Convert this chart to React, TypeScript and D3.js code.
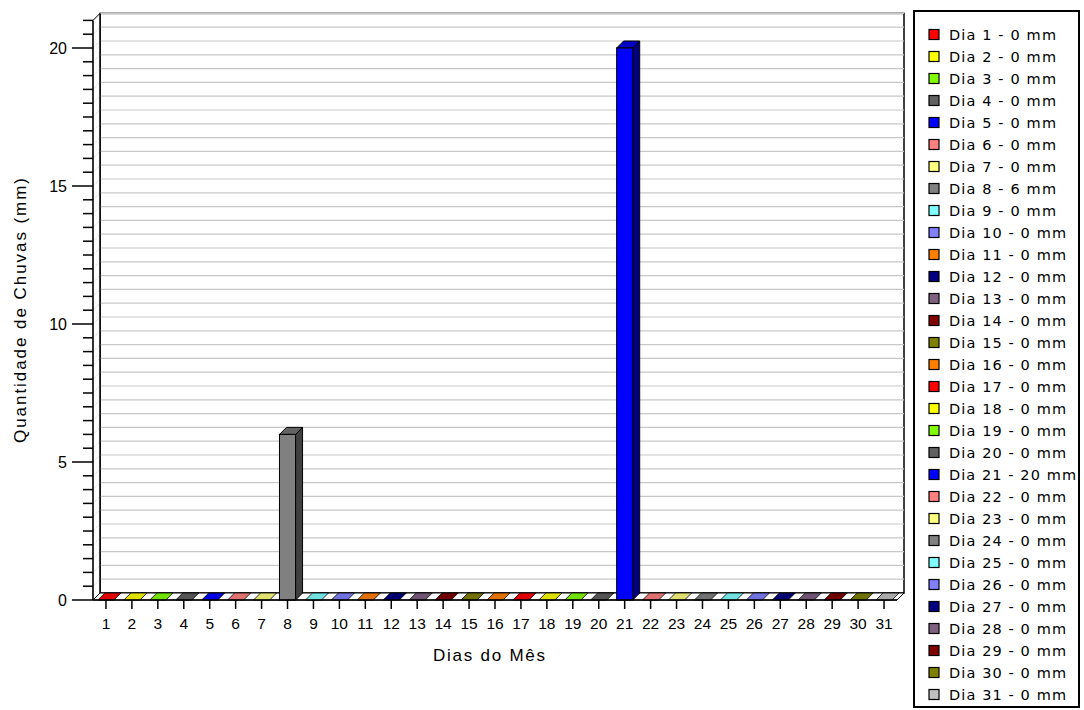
import React from "react";
import * as d3 from "d3";

const days: string[] = Array.from({ length: 31 }, (_, i) => String(i + 1));
const rainfall: number[] = [0, 0, 0, 0, 0, 0, 0, 6, 0, 0, 0, 0, 0, 0, 0, 0, 0, 0, 0, 0, 20, 0, 0, 0, 0, 0, 0, 0, 0, 0, 0];
const barColors: string[] = [
  "#FF0000", "#FFFF00", "#80FF00", "#606060", "#0000FF", "#FF8080", "#FFFF80", "#808080",
  "#80FFFF", "#8080FF", "#FF8000", "#000080", "#806080", "#800000", "#808000", "#FF8000",
  "#FF0000", "#FFFF00", "#80FF00", "#606060", "#0000FF", "#FF8080", "#FFFF80", "#808080",
  "#80FFFF", "#8080FF", "#000080", "#806080", "#800000", "#808000", "#C0C0C0",
];
const yMajorTicks: number[] = [0, 5, 10, 15, 20];
const yTitle = "Quantidade de Chuvas (mm)";
const xTitle = "Dias do Mês";

const FONT = "'Liberation Sans', Arial, sans-serif";
const LFONT = "'DejaVu Sans', sans-serif";

function shade(c: string, k: number): string {
  const rgb = d3.rgb(c);
  return d3.rgb(rgb.r * k, rgb.g * k, rgb.b * k).formatHex();
}

export default function App() {
  const D = 7;
  const x0 = 93, x1 = 897, yBase = 600;
  const y = d3.scaleLinear().domain([0, 21]).range([yBase, 20.4]);
  const x = d3.scaleBand<string>().domain(days).range([x0, x1]).padding(0);
  const step = x.step();
  const barW = step * 0.62;
  const minorTicks = d3.range(0, 21.01, 0.5);
  const yTop = y(21);

  const legendX = 914, legendY = 11;
  const itemStep = 22;

  return (
    <svg width={1084} height={710} style={{ position: "absolute", left: 0, top: 0, background: "#fff" }} fontFamily={FONT}>
      {/* back wall */}
      <rect x={x0 + D} y={yTop - D} width={x1 - x0} height={yBase - yTop} fill="#fff" stroke="#000" strokeWidth={1.5} />
      {/* left wall */}
      <path d={`M${x0},${yBase} L${x0},${yTop} L${x0 + D},${yTop - D} L${x0 + D},${yBase - D} Z`} fill="#fff" stroke="none" />
      {/* grid lines */}
      {minorTicks.slice(1).map((v) => (
        <g key={"g" + v}>
          <line x1={x0 + D} x2={x1 + D} y1={y(v) - D} y2={y(v) - D} stroke="#c8c8c8" strokeWidth={1.2} />
          <line x1={x0} x2={x0 + D} y1={y(v)} y2={y(v) - D} stroke="#d0d0d0" strokeWidth={1} strokeDasharray="1,1" />
        </g>
      ))}
      <line x1={x0 + D} x2={x0 + D} y1={yTop - D} y2={yBase - D} stroke="#000" strokeWidth={1.5} />
      {/* floor */}
      <path d={`M${x0},${yBase} L${x1},${yBase} L${x1 + D},${yBase - D} L${x0 + D},${yBase - D} Z`} fill="#fff" stroke="#000" strokeWidth={1} />
      {/* bars */}
      {days.map((dname, i) => {
        const v = rainfall[i];
        const c = barColors[i];
        const cx = (x(dname) as number) + step / 2;
        const l = cx - barW / 2;
        const r = cx + barW / 2;
        const yt = y(v);
        const top = `M${l},${yt} L${l + D},${yt - D} L${r + D},${yt - D} L${r},${yt} Z`;
        if (v <= 0) {
          return <path key={dname} d={top} fill={shade(c, 0.88)} stroke="#000" strokeWidth={0.8} />;
        }
        const side = `M${r},${yt} L${r + D},${yt - D} L${r + D},${yBase - D} L${r},${yBase} Z`;
        return (
          <g key={dname}>
            <path d={side} fill={shade(c, 0.5)} stroke="#000" strokeWidth={1} />
            <path d={top} fill={shade(c, 0.78)} stroke="#000" strokeWidth={1} />
            <rect x={l} y={yt} width={barW} height={yBase - yt} fill={c} stroke="#000" strokeWidth={1} />
          </g>
        );
      })}
      {/* left axis */}
      <line x1={x0} x2={x0} y1={yTop} y2={yBase} stroke="#000" strokeWidth={1.6} />
      <line x1={x0} x2={x0 + D} y1={yTop} y2={yTop - D} stroke="#000" strokeWidth={1} />
      {minorTicks.map((v) => (
        <line key={"t" + v} x1={yMajorTicks.includes(v) ? 72 : 83} x2={x0} y1={y(v)} y2={y(v)} stroke="#000" strokeWidth={1.5} />
      ))}
      {yMajorTicks.map((v) => (
        <text key={"yl" + v} x={67} y={y(v)} dy="0.36em" textAnchor="end" fontSize={16} fill="#000">{v}</text>
      ))}
      {/* bottom axis */}
      <line x1={x0} x2={x1} y1={yBase} y2={yBase} stroke="#000" strokeWidth={1.6} />
      {days.map((dname) => {
        const cx = (x(dname) as number) + step / 2;
        return (
          <g key={"xt" + dname}>
            <line x1={cx} x2={cx} y1={yBase} y2={yBase + 9} stroke="#000" strokeWidth={1.5} />
            <text x={cx} y={629} textAnchor="middle" fontSize={15.5} fill="#000">{dname}</text>
          </g>
        );
      })}
      {/* titles */}
      <text x={489} y={661} textAnchor="middle" fontSize={17} textLength={112} lengthAdjust="spacing" fill="#000">{xTitle}</text>
      <text transform={`translate(26,310.5) rotate(-90)`} textAnchor="middle" fontSize={17} textLength={265} lengthAdjust="spacing" fill="#000">{yTitle}</text>
      {/* legend */}
      <rect x={legendX} y={legendY} width={165} height={696} fill="#fff" stroke="#000" strokeWidth={2} />
      {days.map((dname, i) => {
        const cy = 34.5 + i * itemStep;
        const label = `Dia ${dname} - ${rainfall[i]} mm`;
        const digits = dname.length + String(rainfall[i]).length;
        return (
          <g key={"lg" + dname}>
            <rect x={929} y={cy - 5} width={10} height={10} fill={barColors[i]} stroke="#000" strokeWidth={1.2} />
            <text x={949} y={cy} dy="0.36em" fontSize={14.5} fontFamily={LFONT} textLength={87 + 10 * digits} lengthAdjust="spacing" fill="#000">{label}</text>
          </g>
        );
      })}
    </svg>
  );
}
